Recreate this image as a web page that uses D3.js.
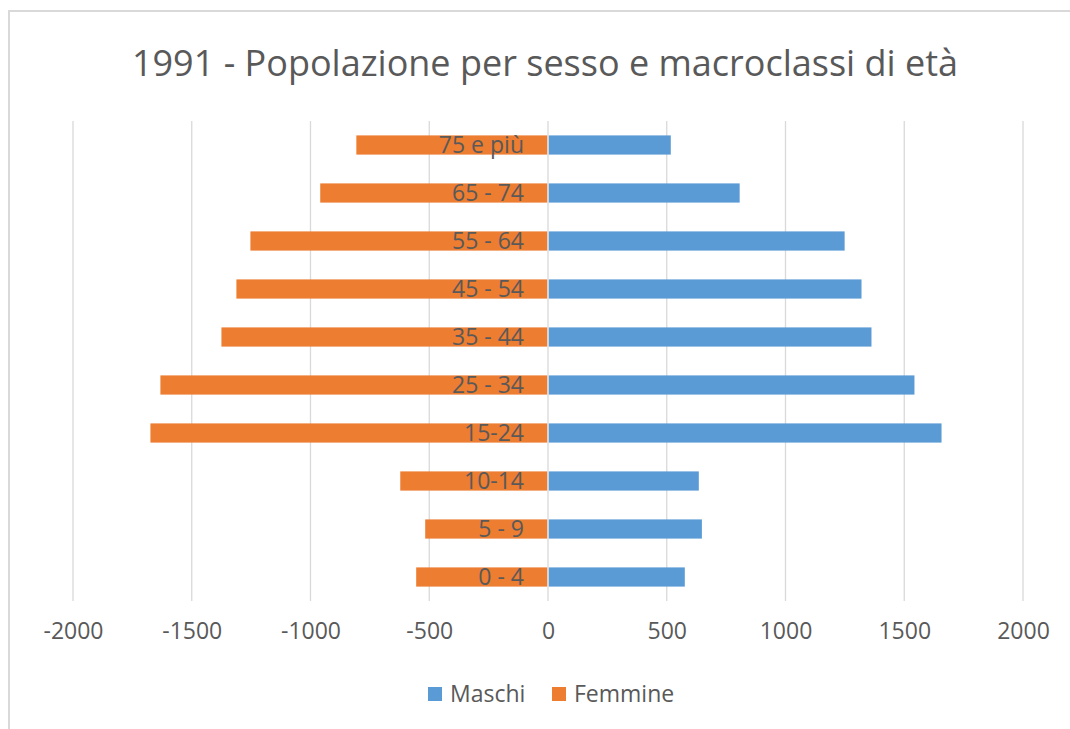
<!DOCTYPE html>
<html><head><meta charset="utf-8">
<script src="https://cdn.jsdelivr.net/npm/d3@7"></script>
<style>body{margin:0;background:#fff;} svg{display:block;}</style>
</head><body>
<script>
const categories = ["0 - 4","5 - 9","10-14","15-24","25 - 34","35 - 44","45 - 54","55 - 64","65 - 74","75 e più"];
const maschi =   [576, 648, 635, 1657, 1543, 1362, 1320, 1249, 807, 517];
const femmine =  [-555, -517, -622, -1674, -1632, -1375, -1312, -1253, -959, -807];
const xTicks = [-2000,-1500,-1000,-500,0,500,1000,1500,2000];
const title = "1991 - Popolazione per sesso e macroclassi di età";
const seriesNames = ["Maschi","Femmine"];
const colors = ["#5B9BD5","#ED7D31"];

const W=1070,H=729;
const font = "'Open Sans', 'Liberation Sans', sans-serif";
const svg = d3.select("body").append("svg").attr("width",W).attr("height",H);
svg.append("rect").attr("x",9).attr("y",11).attr("width",W+10).attr("height",H+10)
  .attr("fill","#fff").attr("stroke","#d9d9d9").attr("stroke-width",2);

const x = d3.scaleLinear().domain([-2000,2000]).range([73,1023]);
const y = d3.scaleBand().domain(categories.slice().reverse()).range([121,601]).paddingInner(0.6).paddingOuter(0.3);

// gridlines
svg.append("g").selectAll("line").data(xTicks).join("line")
  .attr("x1",d=>x(d)).attr("x2",d=>x(d)).attr("y1",121).attr("y2",601)
  .attr("stroke","#d9d9d9").attr("stroke-width",1.3);

const data = categories.map((c,i)=>({c, m:maschi[i], f:femmine[i]}));
svg.append("g").selectAll("rect").data(data).join("rect")
  .attr("x",x(0)+0.8).attr("y",d=>y(d.c)).attr("width",d=>x(d.m)-x(0)-0.8).attr("height",y.bandwidth())
  .attr("fill",colors[0]);
svg.append("g").selectAll("rect").data(data).join("rect")
  .attr("x",d=>x(d.f)).attr("y",d=>y(d.c)).attr("width",d=>x(0)-0.8-x(d.f)).attr("height",y.bandwidth())
  .attr("fill",colors[1]);

// category labels
svg.append("g").selectAll("text").data(categories).join("text")
  .attr("x",x(0)-24).attr("y",d=>y(d)+y.bandwidth()/2).attr("dy","0.36em")
  .attr("text-anchor","end").attr("font-family",font).attr("font-size",23).attr("fill","#595959")
  .text(d=>d);

// x axis
const ax = svg.append("g").attr("transform","translate(0,601)")
  .call(d3.axisBottom(x).tickValues(xTicks).tickSize(0).tickPadding(22).tickFormat(d=>String(d)));
ax.select(".domain").remove();
ax.selectAll("text").attr("font-family",font).attr("font-size",23).attr("fill","#595959");

// title
svg.append("text").attr("x",545).attr("y",76).attr("text-anchor","middle")
  .attr("font-family",font).attr("font-size",36).attr("fill","#595959").text(title);

// legend
const lg = svg.append("g");
const items = [{n:seriesNames[0],c:colors[0],x:428},{n:seriesNames[1],c:colors[1],x:552}];
items.forEach(it=>{
  lg.append("rect").attr("x",it.x).attr("y",687).attr("width",14).attr("height",14).attr("fill",it.c);
  lg.append("text").attr("x",it.x+22).attr("y",694).attr("dy","0.36em")
    .attr("font-family",font).attr("font-size",23).attr("fill","#595959").text(it.n);
});
</script>
</body></html>
